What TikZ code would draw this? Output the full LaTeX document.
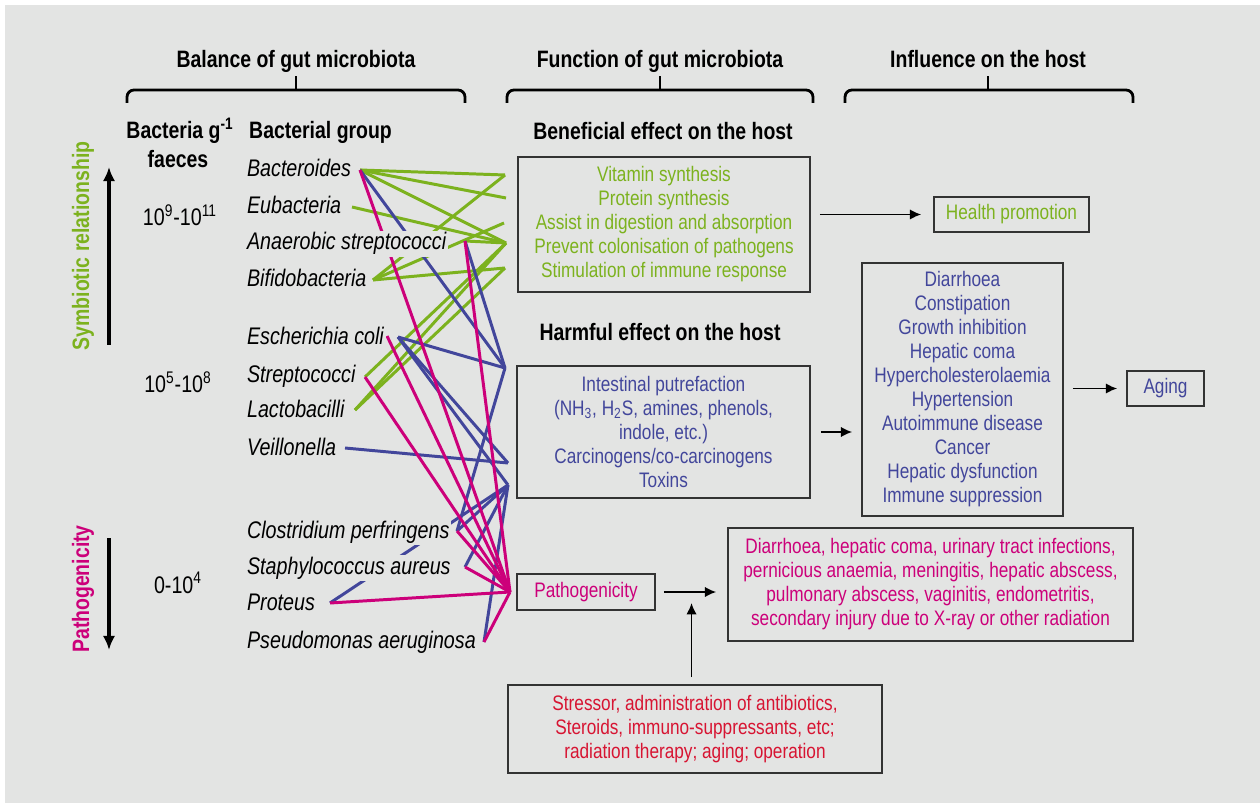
\documentclass[tikz,border=0pt]{standalone}
\usepackage{fontspec}
\setmainfont{Liberation Sans}[FakeStretch = 0.82]
\usetikzlibrary{
	scopes, arrows.meta,
	backgrounds, calc
}
\definecolor{fondo}{RGB}{227,228,227}
\definecolor{verde}{RGB}{124,178,30}
\definecolor{azul}{RGB}{66,70,155}
\definecolor{magenta}{RGB}{204,0,122}
\definecolor{rojo}{RGB}{215,20,50}
\definecolor{borde}{RGB}{51,51,51}
\newcommand\cabfont{\fontsize{13.5}{16}\selectfont\bfseries}
\newcommand\bacfont{\fontsize{13.66}{16}\selectfont\itshape}
\newcommand\numfont{\fontsize{13.66}{16}\selectfont}
\newcommand\cajafont{\fontsize{11.95}{13.66}\selectfont}

\begin{document}
\begin{tikzpicture}[
	x = 0.02cm, y = -0.02cm,
	cabecera/.style = {anchor = base, font = \cabfont},
	bact/.style = {anchor = base west, font = \bacfont, fill = fondo, inner sep = 1pt},
	caja/.style = {draw = borde, line width = 0.9pt, align = center,
		font = \cajafont, inner sep = 0pt},
	flecha/.style = {line width = 1.1pt, -{Latex[length = 6.5pt, width = 6pt]}},
	flechagruesa/.style = {line width = 2.2pt, -{Latex[length = 8pt, width = 7pt]}},
	llave/.style = {line width = 1.6pt, rounded corners = 4pt},
	enlace/.style = {line width = 1.7pt},
]

	% márgenes del dibujo
	\useasboundingbox (0,0) rectangle (1260,803);

	% llaves y títulos de las columnas
	\foreach \xa/\xm/\xb/\tit [count = \i] in {
		127/296/465/Balance of gut microbiota,
		507/660/813/Function of gut microbiota,
		845/988/1133/Influence on the host}
	{
		\draw[llave] (\xa,103) -- (\xa,90) -- (\xb,90) -- (\xb,103);
		\draw[llave] (\xm,90) -- (\xm,76);
		\node[cabecera] (col\i) at (\xm,68) {\tit};
	}

	% columna de concentraciones
	\node[cabecera] (conc) at (180,139) {Bacteria g\textsuperscript{-1}};
	\node[cabecera] (faeces) at (178,168) {faeces};
	\node[cabecera, anchor = base west] (grupo) at (243,139) {Bacterial group};

	\node[anchor = base, font = \numfont] (n1) at (180,226) {10\textsuperscript{9}-10\textsuperscript{11}};
	\node[anchor = base, font = \numfont] (n2) at (178,393) {10\textsuperscript{5}-10\textsuperscript{8}};
	\node[anchor = base, font = \numfont] (n3) at (178,593) {0-10\textsuperscript{4}};

	% flechas laterales
	\coordinate (simA) at (109,345);
	\coordinate (simB) at (109,167);
	\coordinate (patA) at (109,538);
	\coordinate (patB) at (109,650);
	\draw[flechagruesa] (simA) -- (simB);
	\draw[flechagruesa] (patA) -- (patB);

	\node[rotate = 90, font = \cabfont, text = verde] (simb) at (83,246) {Symbiotic relationship};
	\node[rotate = 90, font = \cabfont, text = magenta] (patog) at (83,589) {Pathogenicity};

	% grupos bacterianos
	\node[bact] (bacteroides) at (245,177) {Bacteroides};
	\node[bact] (eubacteria) at (245,214) {Eubacteria};
	\node[bact] (anaerobic) at (245,250) {Anaerobic streptococci};
	\node[bact] (bifido) at (245,287) {Bifidobacteria};
	\node[bact] (ecoli) at (245,345) {Escherichia coli};
	\node[bact] (strepto) at (245,383) {Streptococci};
	\node[bact] (lacto) at (245,418) {Lactobacilli};
	\node[bact] (veillo) at (245,456) {Veillonella};
	\node[bact] (clostri) at (245,538) {Clostridium perfringens};
	\node[bact] (staphylo) at (245,574) {Staphylococcus aureus};
	\node[bact] (proteus) at (245,610) {Proteus};
	\node[bact] (pseudo) at (245,648) {Pseudomonas aeruginosa};

	% efectos sobre el huésped
	\node[cabecera] (benef) at (663,140) {Beneficial effect on the host};
	\node[cabecera] (perj) at (660,341) {Harmful effect on the host};

	\node[caja, text = verde, minimum width = 5.84cm, minimum height = 2.7cm]
		(ben) at (664,224.5) {
		Vitamin synthesis\\
		Protein synthesis\\
		Assist in digestion and absorption\\
		Prevent colonisation of pathogens\\
		Stimulation of immune response};

	\node[caja, text = azul, minimum width = 5.86cm, minimum height = 2.64cm]
		(harm) at (663.5,432) {
		Intestinal putrefaction\\
		(NH\textsubscript{3}, H\textsubscript{2}S, amines, phenols,\\
		indole, etc.)\\
		Carcinogens/co-carcinogens\\
		Toxins};

	\node[caja, text = magenta, minimum width = 2.76cm, minimum height = 0.72cm]
		(path) at (586,592) {Pathogenicity};

	% influencia sobre el huésped
	\node[caja, text = verde, minimum width = 3.1cm, minimum height = 0.7cm]
		(hp) at (1011.5,214.5) {Health promotion};

	\node[caja, text = azul, minimum width = 4.02cm, minimum height = 5.06cm]
		(dis) at (962.5,389.5) {
		Diarrhoea\\
		Constipation\\
		Growth inhibition\\
		Hepatic coma\\
		Hypercholesterolaemia\\
		Hypertension\\
		Autoimmune disease\\
		Cancer\\
		Hepatic dysfunction\\
		Immune suppression};

	\node[caja, text = azul, minimum width = 1.54cm, minimum height = 0.7cm]
		(aging) at (1165.5,388.5) {Aging};

	\node[caja, text = magenta, minimum width = 8.1cm, minimum height = 2.26cm]
		(pd) at (930.5,584.5) {
		Diarrhoea, hepatic coma, urinary tract infections,\\
		pernicious anaemia, meningitis, hepatic abscess,\\
		pulmonary abscess, vaginitis, endometritis,\\
		secondary injury due to X-ray or other radiation};

	\node[caja, text = rojo, minimum width = 7.48cm, minimum height = 1.76cm]
		(stress) at (695,729) {
		Stressor, administration of antibiotics,\\
		Steroids, immuno-suppressants, etc;\\
		radiation therapy; aging; operation};

	% flechas entre cajas
	\draw[flecha, shorten <= 1.8mm, shorten >= 2.4mm] (ben.east |- hp) -- (hp.west);
	\draw[flecha, shorten <= 2mm, shorten >= 1.8mm] (harm.east) -- (harm.east -| dis.west);
	\draw[flecha, shorten <= 1.8mm, shorten >= 1.8mm] (dis.east |- aging) -- (aging.west);
	\draw[flecha, shorten <= 1.6mm, shorten >= 2.2mm] (path.east) -- (path.east -| pd.west);
	\coordinate (cruce) at ($(path.east)!0.5!(path.east -| pd.west)$);
	\draw[flecha, shorten <= 1.4mm, shorten >= 2.2mm] (stress.north -| cruce) -- (cruce);

	% extremos de las líneas
	\coordinate (bt) at (360,170);
	\coordinate (eu) at (352,207);
	\coordinate (an) at (465,241);
	\coordinate (bif) at (373,280);
	\coordinate (ecm) at (387,336);
	\coordinate (ecb) at (398,337);
	\coordinate (str) at (365,377);
	\coordinate (lac) at (355,410);
	\coordinate (vei) at (345,448);
	\coordinate (clo) at (457,531);
	\coordinate (sta) at (465,567);
	\coordinate (pro) at (330,603);
	\coordinate (pse) at (484,642);

	\coordinate (t1) at (505,175);
	\coordinate (t2) at (506,198);
	\coordinate (t2b) at (504,223);
	\coordinate (t3) at (506,243);
	\coordinate (t5) at (505,268);
	\coordinate (h1) at (505,368);
	\coordinate (h2) at (508,463);
	\coordinate (h3) at (508,485);
	\coordinate (p) at (510,592);

	% fondo y líneas de relación
	{[on background layer]

	\fill[fondo] (5,5) rectangle (1260,803);

	\foreach \ori/\fin in {bt/t1, bt/t2, bt/t3, eu/t3, an/t3, bif/t1,
		bif/t2b, bif/t5, str/t3, lac/t3, lac/t5}
		\draw[enlace, verde] (\ori) -- (\fin);

	\foreach \ori/\fin in {bt/h1, an/h1, ecb/h1, ecb/h2, ecb/h3, vei/h2,
		clo/h1, clo/h3, sta/h3, pro/h3, pse/h3}
		\draw[enlace, azul] (\ori) -- (\fin);

	\foreach \ori in {bt, an, ecm, str, clo, sta, pro, pse}
		\draw[enlace, magenta] (\ori) -- (p);
	}

\end{tikzpicture}
\end{document}
